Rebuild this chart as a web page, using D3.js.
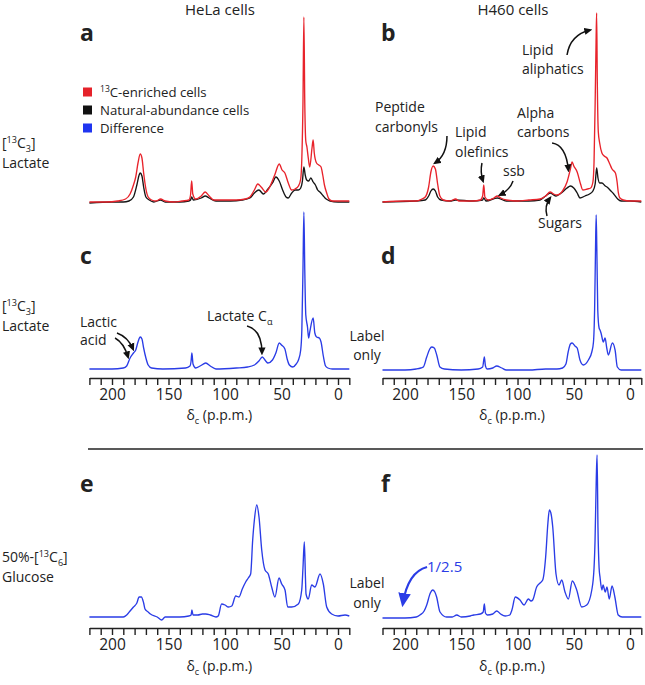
<!DOCTYPE html>
<html><head><meta charset="utf-8">
<script src="https://cdn.jsdelivr.net/npm/d3@7"></script>
<style>body{margin:0;background:#fff} text{font-family:"Open Sans",sans-serif;fill:#222}</style>
</head><body><svg id="fig" width="645" height="685"></svg>
<script>
// ---- data: [chemical shift (p.p.m.), intensity] ----
const aRed = [[220,1],[205,1],[195,2],[188,4],[184,9],[181,18],[179,26],[177,40],[175,49],[173.5,45],[172,30],[170,14],[168,6],[165,3],[161,2],[157,4],[153,2],[145,1],[138,2],[132,3],[130.5,8],[129.5,22],[128.5,9],[126,4],[121,7],[117.5,11],[114,7],[110,3],[100,3],[90,3],[82,4],[78,6],[74,13],[71,19],[68,16],[64,11],[60,17],[56,28],[52,39],[49.5,33],[47,30],[44,20],[41,13],[38,14],[35,17],[33,24],[32,45],[31,100],[30.2,186],[29.4,100],[28.5,62],[27.5,56],[26.3,45],[25,36],[23,55],[22,63],[21,50],[19,40],[17,38],[15,36],[13.5,28],[12,18],[10,10],[8,4],[5,2],[0,2],[-10,2]];
const aBlack = [[220,0],[200,1],[190,1],[185,2],[181,6],[178,18],[176,28],[175,30],[173.5,27],[172,16],[170,6],[167,3],[163,1],[157,3],[153,1],[140,1],[132,2],[130.5,3],[129.5,6],[128,3],[121,5],[117.5,7],[114,5],[108,2],[95,2],[85,3],[78,5],[74,10],[70,13],[66,9],[62,14],[58,20],[55,26],[52,22],[49,13],[46,6],[44,5],[41,10],[38,13],[35,13],[33,15],[31.5,22],[30.2,36],[29,28],[27.7,23],[26,22],[24,25],[22,21],[20,18],[18,13],[16,11],[13,7],[11.5,5],[9,3],[7,2],[0,1],[-10,1]];
const bRed = [[220,0],[200,1],[190,1],[185,3],[182,5],[179,15],[177,30],[175,36],[173,33],[171,18],[169,6],[166,2],[160,1],[155,3],[152,1],[140,1],[133,2],[131,6],[130,17],[129,5],[126,2],[121,4],[118,6],[115,4],[110,2],[100,1],[90,2],[80,3],[75,6],[71,10],[68,8],[65,7],[60,11],[56,20],[53,33],[51.5,40],[50,36],[47,30],[44,18],[42,12],[38,13],[35,14],[33,20],[32,40],[31,100],[30.2,160],[29.7,189],[29.1,120],[28.2,70],[27,59],[25,49],[23,46],[20.5,44],[18,38],[16,33],[13,29],[11.5,20],[10.5,10],[9,4],[6,2],[0,1],[-10,1]];
const bBlack = [[220,0],[190,1],[182,2],[179,6],[177,11],[175,13],[173,11],[171,5],[168,2],[160,1],[155,2],[140,1],[131,2],[130,4],[128,1],[118,4],[110,1],[90,1],[80,2],[75,6],[71,9],[66,6],[60,10],[56,14],[53,16],[50,14],[47,9],[44.5,4],[40,6],[36,8],[33,11],[31,18],[29.7,34],[28.5,24],[27,19],[25,19],[22,16],[20.5,15],[17,11],[14.5,8],[11,3],[8,1],[0,1],[-10,0]];
const cDiff = [[220,1],[200,1],[190,2],[187,4],[184,12],[181,17],[179,20],[177,28],[175,33],[173.5,31],[172,22],[170,12],[168,5],[165,2],[155,1],[135,2],[131,4],[130,9],[129.3,17],[128.3,6],[126,2],[122,4],[117,7],[113,4],[108,1],[90,2],[80,3],[74,5],[70,9],[67,13],[64,9],[62,7],[58,10],[55,17],[52,27],[50,25],[47,21],[45,11],[43,5],[40,3],[37,6],[35,10],[33,20],[32,40],[31,100],[30.2,158],[29.4,100],[28.5,55],[27,43],[26,32],[25,38],[22,52],[20.5,37],[19,33],[16.5,32],[15,28],[13,14],[11,4],[9,2],[5,1],[-10,1]];
const dDiff = [[220,0],[200,0],[190,1],[186,2],[183.7,3],[180.7,13],[178,21],[176.3,23],[174,22],[171.8,15],[169,3],[165,1],[150,0],[135,1],[131,3],[129.5,13],[128.5,4],[127,1],[122,2],[118.5,4],[114,2],[110,0],[90,0],[75,1],[65,1],[60,2],[57,6],[55,18],[53,26],[51.5,27],[49,24],[47,22],[44.5,10],[41.5,5],[37,10],[34,18],[32.5,28],[31.5,60],[30.7,120],[30.1,155],[29.5,120],[28.7,60],[27.5,42],[26.7,40],[25.8,37],[23.7,28],[22.2,32],[20.7,22],[19.3,15],[15.7,27],[13.3,20],[11.3,3],[8,0],[-10,0]];
const eDiff = [[220,1],[200,1],[190,1],[187,3],[184,7],[181,11],[178,15],[176,21],[174,21],[172,15],[170.8,9],[168,6],[166,4],[160,1],[156,-2],[153,1],[150,1],[140,1],[132,2],[130,3],[129.3,8],[128.3,3],[124,3],[120,4],[117,4],[113,3],[108,1],[106,2],[103,14],[100,13],[97,11],[94,12],[90.5,22],[87.6,21],[84.7,29],[81.7,36],[79.4,40],[77.3,44],[75.5,78],[74,98],[71.9,113],[69.9,101],[67.5,68],[64.6,48],[61.7,44],[58.7,31],[55.8,21],[52.2,40],[49.8,34],[46.9,28],[44.5,11],[41,11],[35.1,14],[32.1,28],[31,50],[29.8,76],[28.8,40],[28.3,24],[26.3,19],[23.3,33],[20.4,31],[15.9,44],[13,34],[10,11],[5.6,4],[0,2],[-6.2,3],[-10,2]];
const fDiff = [[220,0],[200,0],[190,1],[186.7,3],[183,7],[180.7,13],[177.5,25],[175.4,28],[173.5,26],[171.9,21],[168.9,6],[163,1],[158,1],[154,3],[150,1],[142,2],[139,3],[133,4],[130.5,6],[129.5,14],[128.5,5],[126.8,3],[122,4],[118.5,7],[115,4],[111,2],[107,3],[105,8],[102,21],[97.8,18],[94.2,13],[90.4,19],[88,17],[86.5,18],[83,31],[80,35],[77.6,38],[75,61],[73,95],[71.7,108],[70,103],[68.7,91],[65.8,44],[63.1,33],[60.7,38],[57.8,26],[54.8,19],[51.3,37],[47.4,28],[43,11],[38.5,13],[34,28],[32,50],[31.1,78],[30,140],[29.3,163],[28.5,90],[27.5,50],[26.7,41],[25,28],[24,33],[22,26],[20.5,31],[18.5,19],[16,32],[13.5,21],[10.5,3],[7,1],[0,1],[-10,1]];

const ppmDomain = [220, -10];
const tickPPM = d3.range(220, -11, -10);
const tickLabelled = [200, 150, 100, 50, 0];
const columnTitles = ["HeLa cells", "H460 cells"];
const legendItems = [
  {parts: [["13","sup"],["C-enriched cells",null]], color: "#e5222a"},
  {parts: [["Natural-abundance cells",null]], color: "#111111"},
  {parts: [["Difference",null]], color: "#1f35f0"}
];

const RED = "#e8232b", BLACK = "#151515", BLUE = "#2a3ce6";
const FS = 14;
const svg = d3.select("#fig");

function rich(sel, parts, size) {
  parts.forEach(([s, k]) => {
    const t = sel.append("tspan").text(s);
    if (k) t.attr("font-size", size * 0.65).attr("data-k", k);
  });
  const tsp = sel.selectAll("tspan").nodes();
  for (let i = 0; i < tsp.length; i++) {
    const prev = i > 0 ? tsp[i-1].getAttribute("data-k") : null;
    const cur = tsp[i].getAttribute("data-k");
    let dy = 0;
    if (prev === "sup") dy += size * 0.38;
    if (prev === "sub") dy -= size * 0.25;
    if (cur === "sup") dy -= size * 0.38;
    if (cur === "sub") dy += size * 0.25;
    if (dy) tsp[i].setAttribute("dy", dy);
  }
  return sel;
}

// markers
const defs = svg.append("defs");
defs.append("marker").attr("id","ah").attr("viewBox","0 0 10 10").attr("refX",7).attr("refY",5)
  .attr("markerWidth",8).attr("markerHeight",8).attr("markerUnits","userSpaceOnUse").attr("orient","auto")
  .append("path").attr("d","M0,0.5 L10,5 L0,9.5 Z").attr("fill","#111");
defs.append("marker").attr("id","ahb").attr("viewBox","0 0 10 10").attr("refX",7).attr("refY",5)
  .attr("markerWidth",14).attr("markerHeight",14).attr("markerUnits","userSpaceOnUse").attr("orient","auto")
  .append("path").attr("d","M0,0.5 L10,5 L0,9.5 Z").attr("fill",BLUE);

const cols = { L: [89.4, 349.3], R: [382.5, 641.3] };
const panels = [
  {id:"a", col:"L", base:203, max:186, series:[[aBlack,BLACK],[aRed,RED]], axis:null},
  {id:"b", col:"R", base:202, max:189, series:[[bBlack,BLACK],[bRed,RED]], axis:null},
  {id:"c", col:"L", base:370, max:158, series:[[cDiff,BLUE]], axis:378},
  {id:"d", col:"R", base:370, max:155, series:[[dDiff,BLUE]], axis:378},
  {id:"e", col:"L", base:618, max:113, series:[[eDiff,BLUE]], axis:628},
  {id:"f", col:"R", base:618, max:163, series:[[fDiff,BLUE]], axis:628}
];
const letterPos = {a:[80,41], b:[381,41], c:[80,264], d:[381,264], e:[80,492], f:[381,492]};
const P = {};

panels.forEach(p => {
  const x = d3.scaleLinear().domain(ppmDomain).range(cols[p.col]);
  const y = d3.scaleLinear().domain([0, p.max]).range([p.base, p.base - p.max]);
  P[p.id] = {x, y};
  const line = d3.line().x(d => x(d[0])).y(d => y(d[1])).curve(d3.curveMonotoneX);
  p.series.forEach(([data, col]) => {
    svg.append("path").datum(data).attr("d", line).attr("fill","none")
      .attr("stroke", col).attr("stroke-width", 1.35).attr("stroke-linejoin","round");
  });
  if (p.axis) {
    const ax = d3.axisBottom(x).tickValues(tickPPM).tickSize(7).tickSizeOuter(0).tickPadding(4)
      .tickFormat(d => tickLabelled.includes(d) ? d : "");
    const g = svg.append("g").attr("transform", `translate(0,${p.axis})`).call(ax);
    g.select(".domain").attr("stroke","#222").attr("stroke-width",1.5);
    g.selectAll(".tick line").attr("stroke","#222").attr("stroke-width",1.4);
    g.selectAll(".tick text").attr("font-size",15.5).attr("font-family","'Open Sans',sans-serif").attr("fill","#222");
    const cx = (cols[p.col][0] + cols[p.col][1]) / 2;
    const lbl = svg.append("text").attr("x", cx).attr("y", p.axis + (p.axis > 500 ? 43 : 42))
      .attr("text-anchor","middle").attr("font-size",FS);
    rich(lbl, [["δ",null],["c","sub"],[" (p.p.m.)",null]], FS);
  }
  svg.append("text").attr("x", letterPos[p.id][0]).attr("y", letterPos[p.id][1])
    .attr("font-size", 23).attr("font-weight", "bold").attr("fill","#000").text(p.id);
});

// column titles
svg.append("text").attr("x",220).attr("y",15).attr("text-anchor","middle").attr("font-size",15).text(columnTitles[0]);
svg.append("text").attr("x",513).attr("y",15).attr("text-anchor","middle").attr("font-size",15).text(columnTitles[1]);

// legend
legendItems.forEach((it, i) => {
  svg.append("rect").attr("x",83).attr("y",87.5 + i*18).attr("width",9).attr("height",9).attr("fill",it.color);
  const t = svg.append("text").attr("x",100).attr("y",97 + i*18).attr("font-size",13.2);
  rich(t, it.parts, 13.2);
});

// row labels
function rowLabel(y1, parts1, y2, txt2) {
  rich(svg.append("text").attr("x",2).attr("y",y1).attr("font-size",FS), parts1, FS);
  svg.append("text").attr("x",2).attr("y",y2).attr("font-size",FS).text(txt2);
}
rowLabel(148, [["[",null],["13","sup"],["C",null],["3","sub"],["]",null]], 168, "Lactate");
rowLabel(311, [["[",null],["13","sup"],["C",null],["3","sub"],["]",null]], 331, "Lactate");
rowLabel(562, [["50%-[",null],["13","sup"],["C",null],["6","sub"],["]",null]], 582, "Glucose");

// separator
svg.append("line").attr("x1",88).attr("x2",643).attr("y1",449).attr("y2",449).attr("stroke","#222").attr("stroke-width",1.5);

// annotations (positions in each panel's ppm / intensity coordinates)
const texts = [
  {p:"b", ppm:226.7, h:[90,70], lines:["Peptide","carbonyls"]},
  {p:"b", ppm:155.6, h:[65,45], lines:["Lipid","olefinics"]},
  {p:"b", ppm:112.9, h:[26], lines:["ssb"]},
  {p:"b", ppm:100.4, h:[84,65], lines:["Alpha","carbons"]},
  {p:"b", ppm:96, h:[147,128], lines:["Lipid","aliphatics"]},
  {p:"b", ppm:81.8, h:[-26], lines:["Sugars"]},
  {p:"c", ppm:228.3, h:[43,25], lines:["Lactic","acid"]},
  {p:"d", ppm:233.8, h:[29,10], lines:["Label","only"], anchor:"middle"},
  {p:"f", ppm:233.8, h:[30,10], lines:["Label","only"], anchor:"middle"}
];
texts.forEach(t => {
  const {x, y} = P[t.p];
  t.lines.forEach((s, i) => svg.append("text").attr("x", x(t.ppm)).attr("y", y(t.h[i]))
    .attr("text-anchor", t.anchor || "start").attr("font-size",FS).text(s));
});
{
  const {x, y} = P.c;
  rich(svg.append("text").attr("x", x(115.9)).attr("y", y(49)).attr("font-size",FS),
    [["Lactate C",null],["α","sub"]], FS);
}
{
  const {x, y} = P.f;
  svg.append("text").attr("x", x(180.4)).attr("y", y(46)).attr("font-size",15).style("fill",BLUE).text("1/2.5");
}

const arrows = [
  {p:"b", pts:[[162.7,66],[162.7,47],[173.3,39]]},
  {p:"b", pts:[[131.6,39],[133.3,30],[130.7,21]]},
  {p:"b", pts:[[104,21],[106.7,12],[115.6,7]]},
  {p:"b", pts:[[69.3,59],[56.9,57],[54.8,32]]},
  {p:"b", pts:[[56,147],[53.3,167],[35.6,172]]},
  {p:"b", pts:[[73.8,-14],[76.4,-4],[71.1,4]]},
  {p:"c", pts:[[195.6,37],[185.8,33],[181.4,21]]},
  {p:"c", pts:[[197.3,32],[189.4,27],[185.8,13]]},
  {p:"c", pts:[[80.5,44],[67.3,40],[67.3,17]]},
  {p:"f", pts:[[180.4,51],[197.3,46],[201.8,15]], blue:true}
];
arrows.forEach(a => {
  const {x, y} = P[a.p];
  const [s, c, e] = a.pts.map(d => [x(d[0]), y(d[1])]);
  const path = d3.path();
  path.moveTo(s[0], s[1]);
  path.quadraticCurveTo(c[0], c[1], e[0], e[1]);
  svg.append("path").attr("d", path.toString()).attr("fill","none")
    .attr("stroke", a.blue ? BLUE : "#111").attr("stroke-width", a.blue ? 2.2 : 1.5)
    .attr("marker-end", a.blue ? "url(#ahb)" : "url(#ah)");
});
</script></body></html>
